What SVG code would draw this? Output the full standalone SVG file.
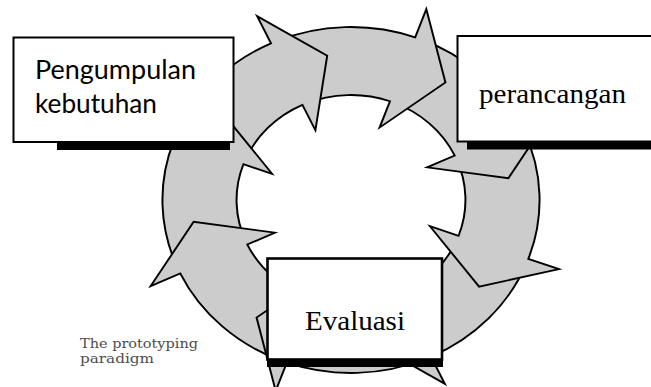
<svg xmlns="http://www.w3.org/2000/svg" xmlns:xlink="http://www.w3.org/1999/xlink" width="651" height="387" viewBox="0 0 651 387">
  <style>
    .seg { fill: #cccccc; stroke: #000000; stroke-width: 1.8; stroke-linejoin: miter; }
    .box { fill: #ffffff; stroke: #000000; stroke-width: 2; }
    .shadow { fill: #000000; }
    .sans { font-family: Lato, "Open Sans", "Liberation Sans", sans-serif; font-size: 26.5px; fill: #000000; }
    .serif { font-family: "Liberation Serif", "Times New Roman", serif; font-size: 28px; fill: #000000; }
    .caption { font-family: "DejaVu Serif", serif; font-size: 13.5px; fill: #4d4d4d; }
  </style>
  <defs>
    <!-- one curved ring segment with its arrowhead; tip lies on the 0° ray -->
    <path id="seg" class="seg"
          d="M 86.5,-149.82 A 173 173 0 0 1 165.88,-49.14 L 194.64,-57.66 L 146,0 L 73.83,-21.87 L 100.68,-29.82 A 105 105 0 0 0 52.5,-90.93 Z"/>
  </defs>

  <rect width="651" height="387" fill="#ffffff"/>

  <!-- eight arrows running clockwise around the ring; each head overlaps the next tail -->
  <g id="connectors" transform="translate(351,200) scale(1.09,1)">
    <use xlink:href="#seg" href="#seg" transform="rotate(81.4)"/>
    <use xlink:href="#seg" href="#seg" transform="rotate(36.4)"/>
    <use xlink:href="#seg" href="#seg" transform="rotate(-8.6)"/>
    <use xlink:href="#seg" href="#seg" transform="rotate(-53.6)"/>
    <use xlink:href="#seg" href="#seg" transform="rotate(-98.6)"/>
    <use xlink:href="#seg" href="#seg" transform="rotate(216.4)"/>
    <use xlink:href="#seg" href="#seg" transform="rotate(171.4)"/>
    <use xlink:href="#seg" href="#seg" transform="rotate(126.4)"/>
  </g>

  <g id="pengumpulan-kebutuhan">
    <rect class="shadow" x="57" y="142" width="173" height="8"/>
    <rect class="box" x="13.5" y="37.5" width="220" height="104.5"/>
    <text class="sans" x="35" y="78.5" textLength="161" lengthAdjust="spacingAndGlyphs">Pengumpulan</text>
    <text class="sans" x="35" y="112.5" textLength="122" lengthAdjust="spacingAndGlyphs">kebutuhan</text>
  </g>

  <g id="perancangan">
    <rect class="shadow" x="467" y="141.5" width="190" height="8"/>
    <rect class="box" x="457.5" y="36" width="210" height="105.5"/>
    <text class="serif" x="479" y="103" textLength="147" lengthAdjust="spacingAndGlyphs">perancangan</text>
  </g>

  <g id="evaluasi">
    <rect class="shadow" x="267" y="359" width="176" height="8"/>
    <rect class="box" x="267.5" y="258.5" width="174.5" height="101" style="stroke-width:2.6"/>
    <text class="serif" x="305" y="329.5" textLength="100" lengthAdjust="spacingAndGlyphs">Evaluasi</text>
  </g>

  <g id="caption">
    <text class="caption" x="80" y="348" textLength="118" lengthAdjust="spacingAndGlyphs">The prototyping</text>
    <text class="caption" x="80" y="363.3" textLength="74" lengthAdjust="spacingAndGlyphs">paradigm</text>
  </g>
</svg>
